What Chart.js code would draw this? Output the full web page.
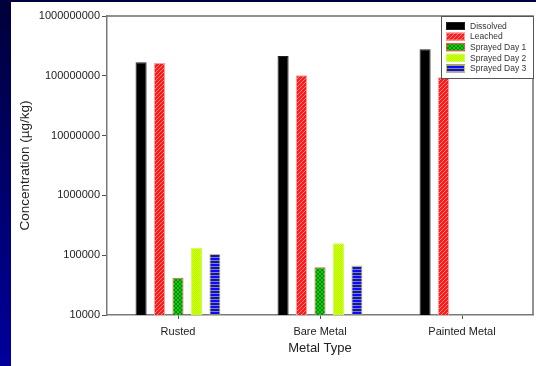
<!DOCTYPE html>
<html>
<head>
<meta charset="utf-8">
<script src="https://cdn.jsdelivr.net/npm/chart.js@4/dist/chart.umd.min.js"></script>
<style>
  html, body { margin: 0; padding: 0; background: #ffffff; }
  canvas { display: block; }
</style>
</head>
<body>
<canvas id="chart" width="536" height="366"></canvas>
<script>
// Metal concentrations by metal type (µg/kg), log scale
const categories = ['Rusted', 'Bare Metal', 'Painted Metal'];
const seriesNames = ['Dissolved', 'Leached', 'Sprayed Day 1', 'Sprayed Day 2', 'Sprayed Day 3'];
const dissolved   = [1.68e8, 2.14e8, 2.77e8];
const leached     = [1.64e8, 1.02e8, 9.5e7];
const sprayedDay1 = [4.2e4, 6.3e4, null];
const sprayedDay2 = [1.33e5, 1.58e5, null];
const sprayedDay3 = [1.05e5, 6.7e4, null];
const yTickValues = [1e4, 1e5, 1e6, 1e7, 1e8, 1e9];
const yTickLabels = ['10000', '100000', '1000000', '10000000', '100000000', '1000000000'];

const FONT = '"Liberation Sans", Arial, sans-serif';

// Small repeating fills for the hatched bars
function makePattern(size, draw) {
  const c = document.createElement('canvas');
  c.width = size; c.height = size;
  const g = c.getContext('2d');
  draw(g, size);
  return g.createPattern(c, 'repeat');
}
const ctx = document.getElementById('chart').getContext('2d');

const redHatch = makePattern(4, (g, s) => {
  g.fillStyle = '#ff1a1a'; g.fillRect(0, 0, s, s);
  g.fillStyle = '#ff8a8a';
  for (let i = 0; i < s; i++) g.fillRect(i, (s - 1 - i), 1, 1);
});
const greenHatch = makePattern(4, (g, s) => {
  g.fillStyle = '#10d010'; g.fillRect(0, 0, s, s);
  g.fillStyle = '#008a00';
  for (let i = 0; i < s; i++) { g.fillRect(i, i, 1, 1); g.fillRect(i, s - 1 - i, 1, 1); }
});
const limeDots = makePattern(2, (g, s) => {
  g.fillStyle = '#f0ff00'; g.fillRect(0, 0, s, s);
  g.fillStyle = '#9cff10';
  g.fillRect(0, 0, 1, 1); g.fillRect(1, 1, 1, 1);
});
const blueLines = makePattern(3, (g, s) => {
  g.fillStyle = '#0a0aff'; g.fillRect(0, 0, s, s);
  g.fillStyle = '#8c8c5a'; g.fillRect(0, 2, s, 1);
});

const fills   = ['#000000', redHatch, greenHatch, limeDots, blueLines];
const borders = ['#202020', '#ff9c9c', '#ff5050', '#c8ff60', '#c8c840'];
const values  = [dissolved, leached, sprayedDay1, sprayedDay2, sprayedDay3];

const datasets = seriesNames.map((name, i) => ({
  label: name,
  data: values[i],
  backgroundColor: fills[i],
  borderColor: borders[i],
  borderWidth: 1,
  categoryPercentage: 0.65,
  barPercentage: 0.6
}));

// Page backdrop: navy side strip and top edge, white panel
const backdrop = {
  id: 'backdrop',
  beforeDraw(chart) {
    const c = chart.ctx, w = chart.width, h = chart.height;
    c.save();
    c.fillStyle = '#ffffff';
    c.fillRect(0, 0, w, h);
    const grad = c.createLinearGradient(0, 0, 0, h);
    grad.addColorStop(0, '#00003a');
    grad.addColorStop(1, '#00009c');
    c.fillStyle = grad;
    c.fillRect(0, 0, 11, h);
    c.fillStyle = '#000040';
    c.fillRect(0, 0, w, 2);
    c.restore();
  }
};

// Frame around the plot plus the boxed legend in the top-right corner
const frameAndLegend = {
  id: 'frameAndLegend',
  afterDraw(chart) {
    const c = chart.ctx, a = chart.chartArea;
    c.save();
    c.strokeStyle = '#6e6e6e';
    c.lineWidth = 1.5;
    c.beginPath();
    c.moveTo(a.left, a.top);
    c.lineTo(a.right, a.top);
    c.lineTo(a.right, a.bottom);
    c.stroke();

    const bx = 441.5, by = 16.5, bw = 92, bh = 62;
    c.fillStyle = '#ffffff';
    c.fillRect(bx, by, bw, bh);
    c.strokeStyle = '#555555';
    c.lineWidth = 1;
    c.strokeRect(bx, by, bw, bh);

    c.font = '8.5px ' + FONT;
    c.textBaseline = 'middle';
    c.textAlign = 'left';
    chart.data.datasets.forEach((ds, i) => {
      const cy = 26 + i * 10.6;
      c.fillStyle = ds.backgroundColor;
      c.fillRect(446, cy - 4, 19, 8);
      c.strokeStyle = ds.borderColor;
      c.strokeRect(446.5, cy - 3.5, 18, 7);
      c.fillStyle = '#333333';
      c.fillText(ds.label, 470, cy + 0.5);
    });
    c.restore();
  }
};

new Chart(ctx, {
  type: 'bar',
  data: { labels: categories, datasets },
  plugins: [backdrop, frameAndLegend],
  options: {
    responsive: false,
    animation: false,
    devicePixelRatio: 1,
    layout: { padding: { top: 16, right: 3, left: 0, bottom: 0 } },
    plugins: { legend: { display: false }, tooltip: { enabled: false } },
    scales: {
      x: {
        type: 'category',
        grid: { display: true, drawOnChartArea: false, drawTicks: true, tickLength: 4, tickColor: '#555555', offset: false },
        border: { display: true, color: '#7a7a7a', width: 1.5 },
        ticks: { color: '#222222', font: { family: FONT, size: 11 }, padding: 6, maxRotation: 0 },
        title: { display: true, text: 'Metal Type', color: '#222222', font: { family: FONT, size: 13 }, padding: { top: 0, bottom: 10 } },
        afterFit(scale) { scale.height = 51; }
      },
      y: {
        type: 'logarithmic',
        min: 1e4,
        max: 1e9,
        grid: { display: true, drawOnChartArea: false, drawTicks: true, tickLength: 5, tickColor: '#555555' },
        border: { display: true, color: '#7a7a7a', width: 1.5 },
        afterBuildTicks(scale) { scale.ticks = yTickValues.map(v => ({ value: v })); },
        ticks: {
          color: '#222222',
          font: { family: FONT, size: 11 },
          padding: 2,
          callback(value) {
            const i = yTickValues.indexOf(value);
            return i >= 0 ? yTickLabels[i] : '';
          }
        },
        title: { display: true, text: 'Concentration (µg/kg)', color: '#222222', font: { family: FONT, size: 13.5 }, padding: { top: 17, bottom: 0 } },
        afterFit(scale) { scale.width = 107; }
      }
    }
  }
});
</script>
</body>
</html>
